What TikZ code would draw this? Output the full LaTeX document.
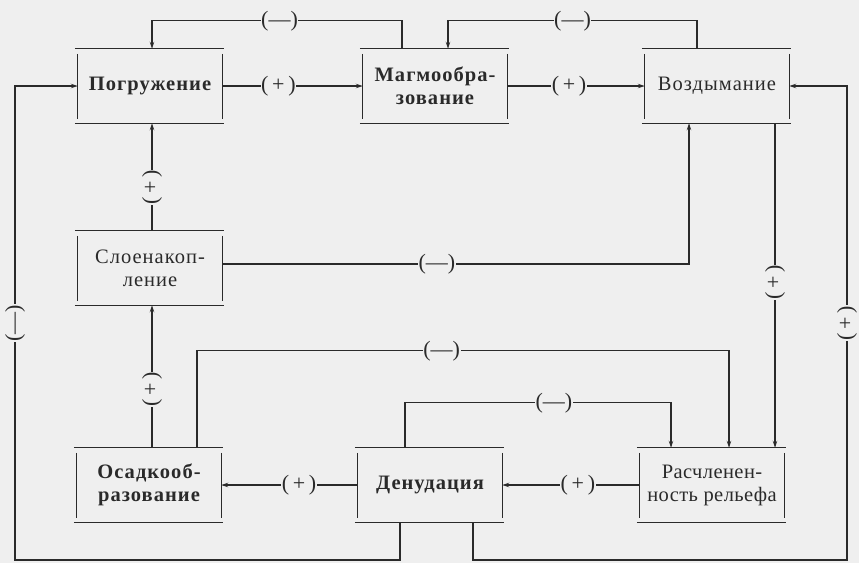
\documentclass[tikz,border=0pt]{standalone}
\usepackage{fontspec}
\setmainfont{Liberation Serif}
\usetikzlibrary{arrows.meta,calc}
\definecolor{bg}{HTML}{EFEFEF}
\definecolor{ink}{HTML}{2A2A2A}
\newcommand{\boxfont}{\fontsize{20.5}{23}\selectfont\addfontfeature{LetterSpace=5}}
\newcommand{\rasfont}{\fontsize{20.5}{23}\selectfont\addfontfeature{LetterSpace=2}}
\newcommand{\labfont}{\fontsize{22}{24}\selectfont}
\newcommand{\plab}{(\,+\,)}
\newcommand{\mlab}{(—)}
\begin{document}
\begin{tikzpicture}[x=1pt,y=-1pt,
  boxline/.style={draw=ink,line width=1.3pt,-},
  boxnode/.style={minimum width=144pt,minimum height=74pt,align=center,inner sep=2pt,text=ink,font=\boxfont,
    append after command={
      ([xshift=-3pt]\tikzlastnode.north west) edge[boxline] ([xshift=2pt]\tikzlastnode.north east)
      ([xshift=-3pt]\tikzlastnode.south west) edge[boxline] ([xshift=2pt]\tikzlastnode.south east)
      ([yshift=-5pt]\tikzlastnode.north west) edge[boxline] ([yshift=4pt]\tikzlastnode.south west)
      ([yshift=-5pt]\tikzlastnode.north east) edge[boxline] ([yshift=4pt]\tikzlastnode.south east)
    }},
  conn/.style={draw=ink,line width=1.1pt},
  arr/.style={conn,-{Stealth[length=7pt,width=4.5pt]}},
  lab/.style={fill=bg,inner sep=0.5pt,text=ink,font=\labfont},
  vlab/.style={lab,rotate=90}]
\fill[bg] (0,0) rectangle (859,563);
\useasboundingbox (0,0) rectangle (859,563);

% boxes
\node[boxnode,font=\boxfont\bfseries] (pog) at (150,86) {Погружение};
\node[boxnode,font=\boxfont\bfseries] (mag) at (435,86) {Магмообра-\\зование};
\node[boxnode] (voz) at (717,86) {Воздымание};
\node[boxnode] (slo) at (150,268) {Слоенакоп-\\ление};
\node[boxnode,font=\boxfont\bfseries] (osa) at (149,485) {Осадкооб-\\разование};
\node[boxnode,font=\boxfont\bfseries] (den) at (430,485) {Денудация};
\node[boxnode,font=\rasfont] (ras) at (712,485) {Расчленен-\\ность рельефа};

\coordinate (lc) at (15,560);
\coordinate (rc) at (847,560);

% top row
\draw[arr] (pog) -- node[lab,pos=0.4]{\plab} (mag);
\draw[arr] (mag) -- node[lab,pos=0.45]{\plab} (voz);
\draw[arr] ([xshift=-33pt]mag.north) -- ++(0,-28) -| node[lab,pos=0.245]{\mlab} ([xshift=2pt]pog.north);
\draw[arr] ([xshift=-20pt]voz.north) -- ++(0,-28) -| node[lab,pos=0.25]{\mlab} ([xshift=13pt]mag.north);

% left column
\draw[arr] ([xshift=2pt]slo.north) -- node[vlab,pos=0.4]{\plab} ([xshift=2pt]pog.south);
\draw[arr] ([xshift=3pt]osa.north) -- node[vlab,pos=0.41]{\plab} ([xshift=2pt]slo.south);

% slo -> voz
\draw[arr] ([yshift=4pt]slo.east) -| node[lab,pos=0.23]{\mlab} ([xshift=-28pt]voz.south);

% voz -> ras
\draw[arr] ([xshift=58pt]voz.south) -- node[vlab,pos=0.49]{\plab} ([xshift=58pt]voz.south |- ras.north);

% middle feedbacks into ras
\draw[arr] ([xshift=48pt]osa.north) -- ++(0,-97) -| node[lab,pos=0.23]{\mlab} ([xshift=17pt]ras.north);
\draw[arr] ([xshift=-25pt]den.north) -- ++(0,-45) -| node[lab,pos=0.28]{\mlab} ([xshift=-41pt]ras.north);

% bottom row
\draw[arr] (ras) -- node[lab,pos=0.45]{\plab} (den);
\draw[arr] (den) -- node[lab,pos=0.43]{\plab} (osa);

% outer loops
\draw[arr] ([xshift=43pt]den.south) |- (rc) -- node[vlab]{\plab} (rc |- voz.east) -- (voz.east);
\draw[arr] ([xshift=-30pt]den.south) |- (lc) -- node[vlab]{\mlab} (lc |- pog.west) -- (pog.west);
\end{tikzpicture}
\end{document}
